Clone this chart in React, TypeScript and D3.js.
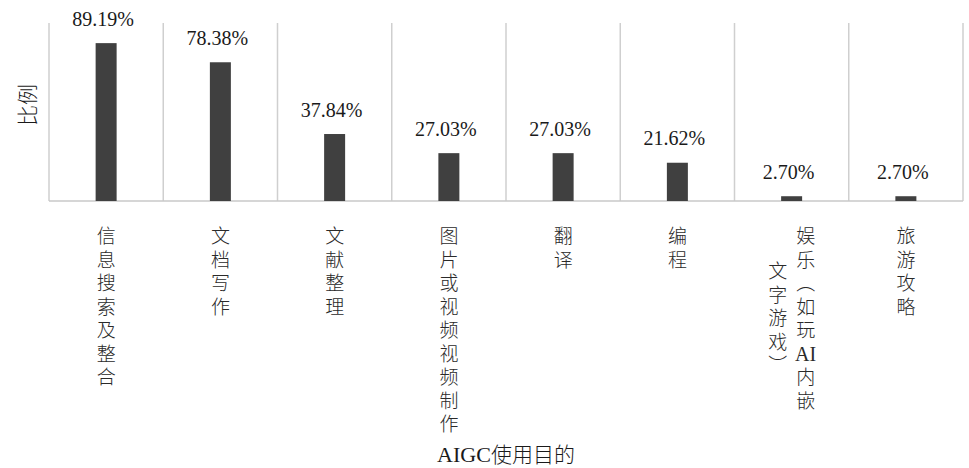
import React from "react";
import * as d3 from "d3";

// Usage purposes of AIGC and the share of respondents for each
const categories: string[] = [
  "信息搜索及整合",
  "文档写作",
  "文献整理",
  "图片或视频视频制作",
  "翻译",
  "编程",
  "娱乐（如玩AI内嵌\n文字游戏）",
  "旅游攻略",
];
const shares: number[] = [89.19, 78.38, 37.84, 27.03, 27.03, 21.62, 2.7, 2.7];
const yDomain: [number, number] = [0, 100];
const xTitleLatin = "AIGC";
const xTitleCjk = "使用目的";
const yTitle = "比例";

const W = 969;
const H = 468;
const margin = { left: 49, right: 6, top: 24, bottom: 267 };
const plotTop = 23;

const SERIF = "'Liberation Serif', 'DejaVu Serif', serif";
const CJK = "'Noto Sans CJK SC', 'Noto Sans CJK JP', sans-serif";

// split a column of text into stacked tokens; runs of latin letters stay together
function tokenize(s: string): string[] {
  const out: string[] = [];
  const re = /[A-Za-z0-9]+|./gu;
  let m: RegExpExecArray | null;
  while ((m = re.exec(s))) out.push(m[0]);
  return out;
}

const isLatin = (t: string) => /^[A-Za-z0-9]+$/.test(t);

// group tokens into runs: CJK runs are set vertically, latin runs stay upright
function runs(toks: string[]): { text: string; start: number; latin: boolean }[] {
  const out: { text: string; start: number; latin: boolean }[] = [];
  toks.forEach((t, i) => {
    const lat = isLatin(t);
    const last = out[out.length - 1];
    if (!lat && last && !last.latin) last.text += t;
    else out.push({ text: t, start: i, latin: lat });
  });
  return out;
}

export default function App() {
  const x = d3
    .scaleBand<string>()
    .domain(categories)
    .range([margin.left, W - margin.right])
    .paddingInner(0)
    .paddingOuter(0);
  const y = d3
    .scaleLinear()
    .domain(yDomain)
    .range([H - margin.bottom, margin.top]);
  const base = y(0);
  const barW = 21;
  const step = 23.5;
  const labelTop = 236;
  const colGap = 28;
  const fs = 19;

  const gridXs = [...categories.map((c) => x(c)!), x(categories[categories.length - 1])! + x.bandwidth()];

  return (
    <svg
      width={W}
      height={H}
      style={{ position: "absolute", left: 0, top: 0, background: "#fff" }}
      xmlns="http://www.w3.org/2000/svg"
    >
      <rect x={0} y={0} width={W} height={H} fill="#fff" />
      {/* vertical separators between categories */}
      {gridXs.map((gx, i) => (
        <line key={"g" + i} x1={gx} x2={gx} y1={plotTop} y2={base} stroke="#cfcfcf" strokeWidth={1.5} />
      ))}
      {/* baseline */}
      <line x1={margin.left} x2={W - margin.right} y1={base} y2={base} stroke="#c8c8c8" strokeWidth={1.5} />

      {/* bars and value labels */}
      {categories.map((c, i) => {
        const cx = x(c)! + x.bandwidth() / 2;
        const v = shares[i];
        return (
          <g key={"b" + i}>
            <rect x={cx - barW / 2} y={y(v)} width={barW} height={base - y(v)} fill="#404040" />
            <text
              x={cx - 3}
              y={y(v) - 17.5}
              textAnchor="middle"
              style={{ fontFamily: SERIF, fontSize: 20 }}
              fill="#1a1a1a"
            >
              {v.toFixed(2) + "%"}
            </text>
          </g>
        );
      })}

      {/* vertical category labels */}
      {categories.map((c, i) => {
        const cx = x(c)! + x.bandwidth() / 2;
        const cols = c.split("\n").map(tokenize);
        const maxLen = d3.max(cols, (t) => t.length) || 0;
        const n = cols.length;
        return (
          <g key={"l" + i}>
            {cols.map((toks, ci) => {
              const colX = cx + ((n - 1) / 2 - ci) * colGap;
              const start = labelTop + ((maxLen - toks.length) / 2) * step;
              return runs(toks).map((r, ri) => {
                const ty = start + r.start * step;
                if (r.latin) {
                  return (
                    <text
                      key={ci + "-" + ri}
                      x={colX}
                      y={ty}
                      textAnchor="middle"
                      dominantBaseline="central"
                      style={{ fontFamily: SERIF, fontSize: 20 }}
                      fill="#2a2a2a"
                    >
                      {r.text}
                    </text>
                  );
                }
                return (
                  <text
                    key={ci + "-" + ri}
                    x={colX}
                    y={ty - fs / 2}
                    style={{
                      fontFamily: CJK,
                      fontSize: fs,
                      fontWeight: 300,
                      writingMode: "vertical-rl",
                      letterSpacing: step - fs,
                    }}
                    fill="#2a2a2a"
                  >
                    {r.text}
                  </text>
                );
              });
            })}
          </g>
        );
      })}

      {/* axis titles */}
      <text
        x={(margin.left + W - margin.right) / 2}
        y={462}
        textAnchor="middle"
        fill="#1a1a1a"
      >
        <tspan style={{ fontFamily: SERIF, fontSize: 22 }}>{xTitleLatin}</tspan>
        <tspan style={{ fontFamily: CJK, fontSize: 21, fontWeight: 300 }}>{xTitleCjk}</tspan>
      </text>
      <text
        transform={`translate(35 105) rotate(-90)`}
        textAnchor="middle"
        style={{ fontFamily: CJK, fontSize: 21, fontWeight: 300 }}
        fill="#1a1a1a"
      >
        {yTitle}
      </text>
    </svg>
  );
}
